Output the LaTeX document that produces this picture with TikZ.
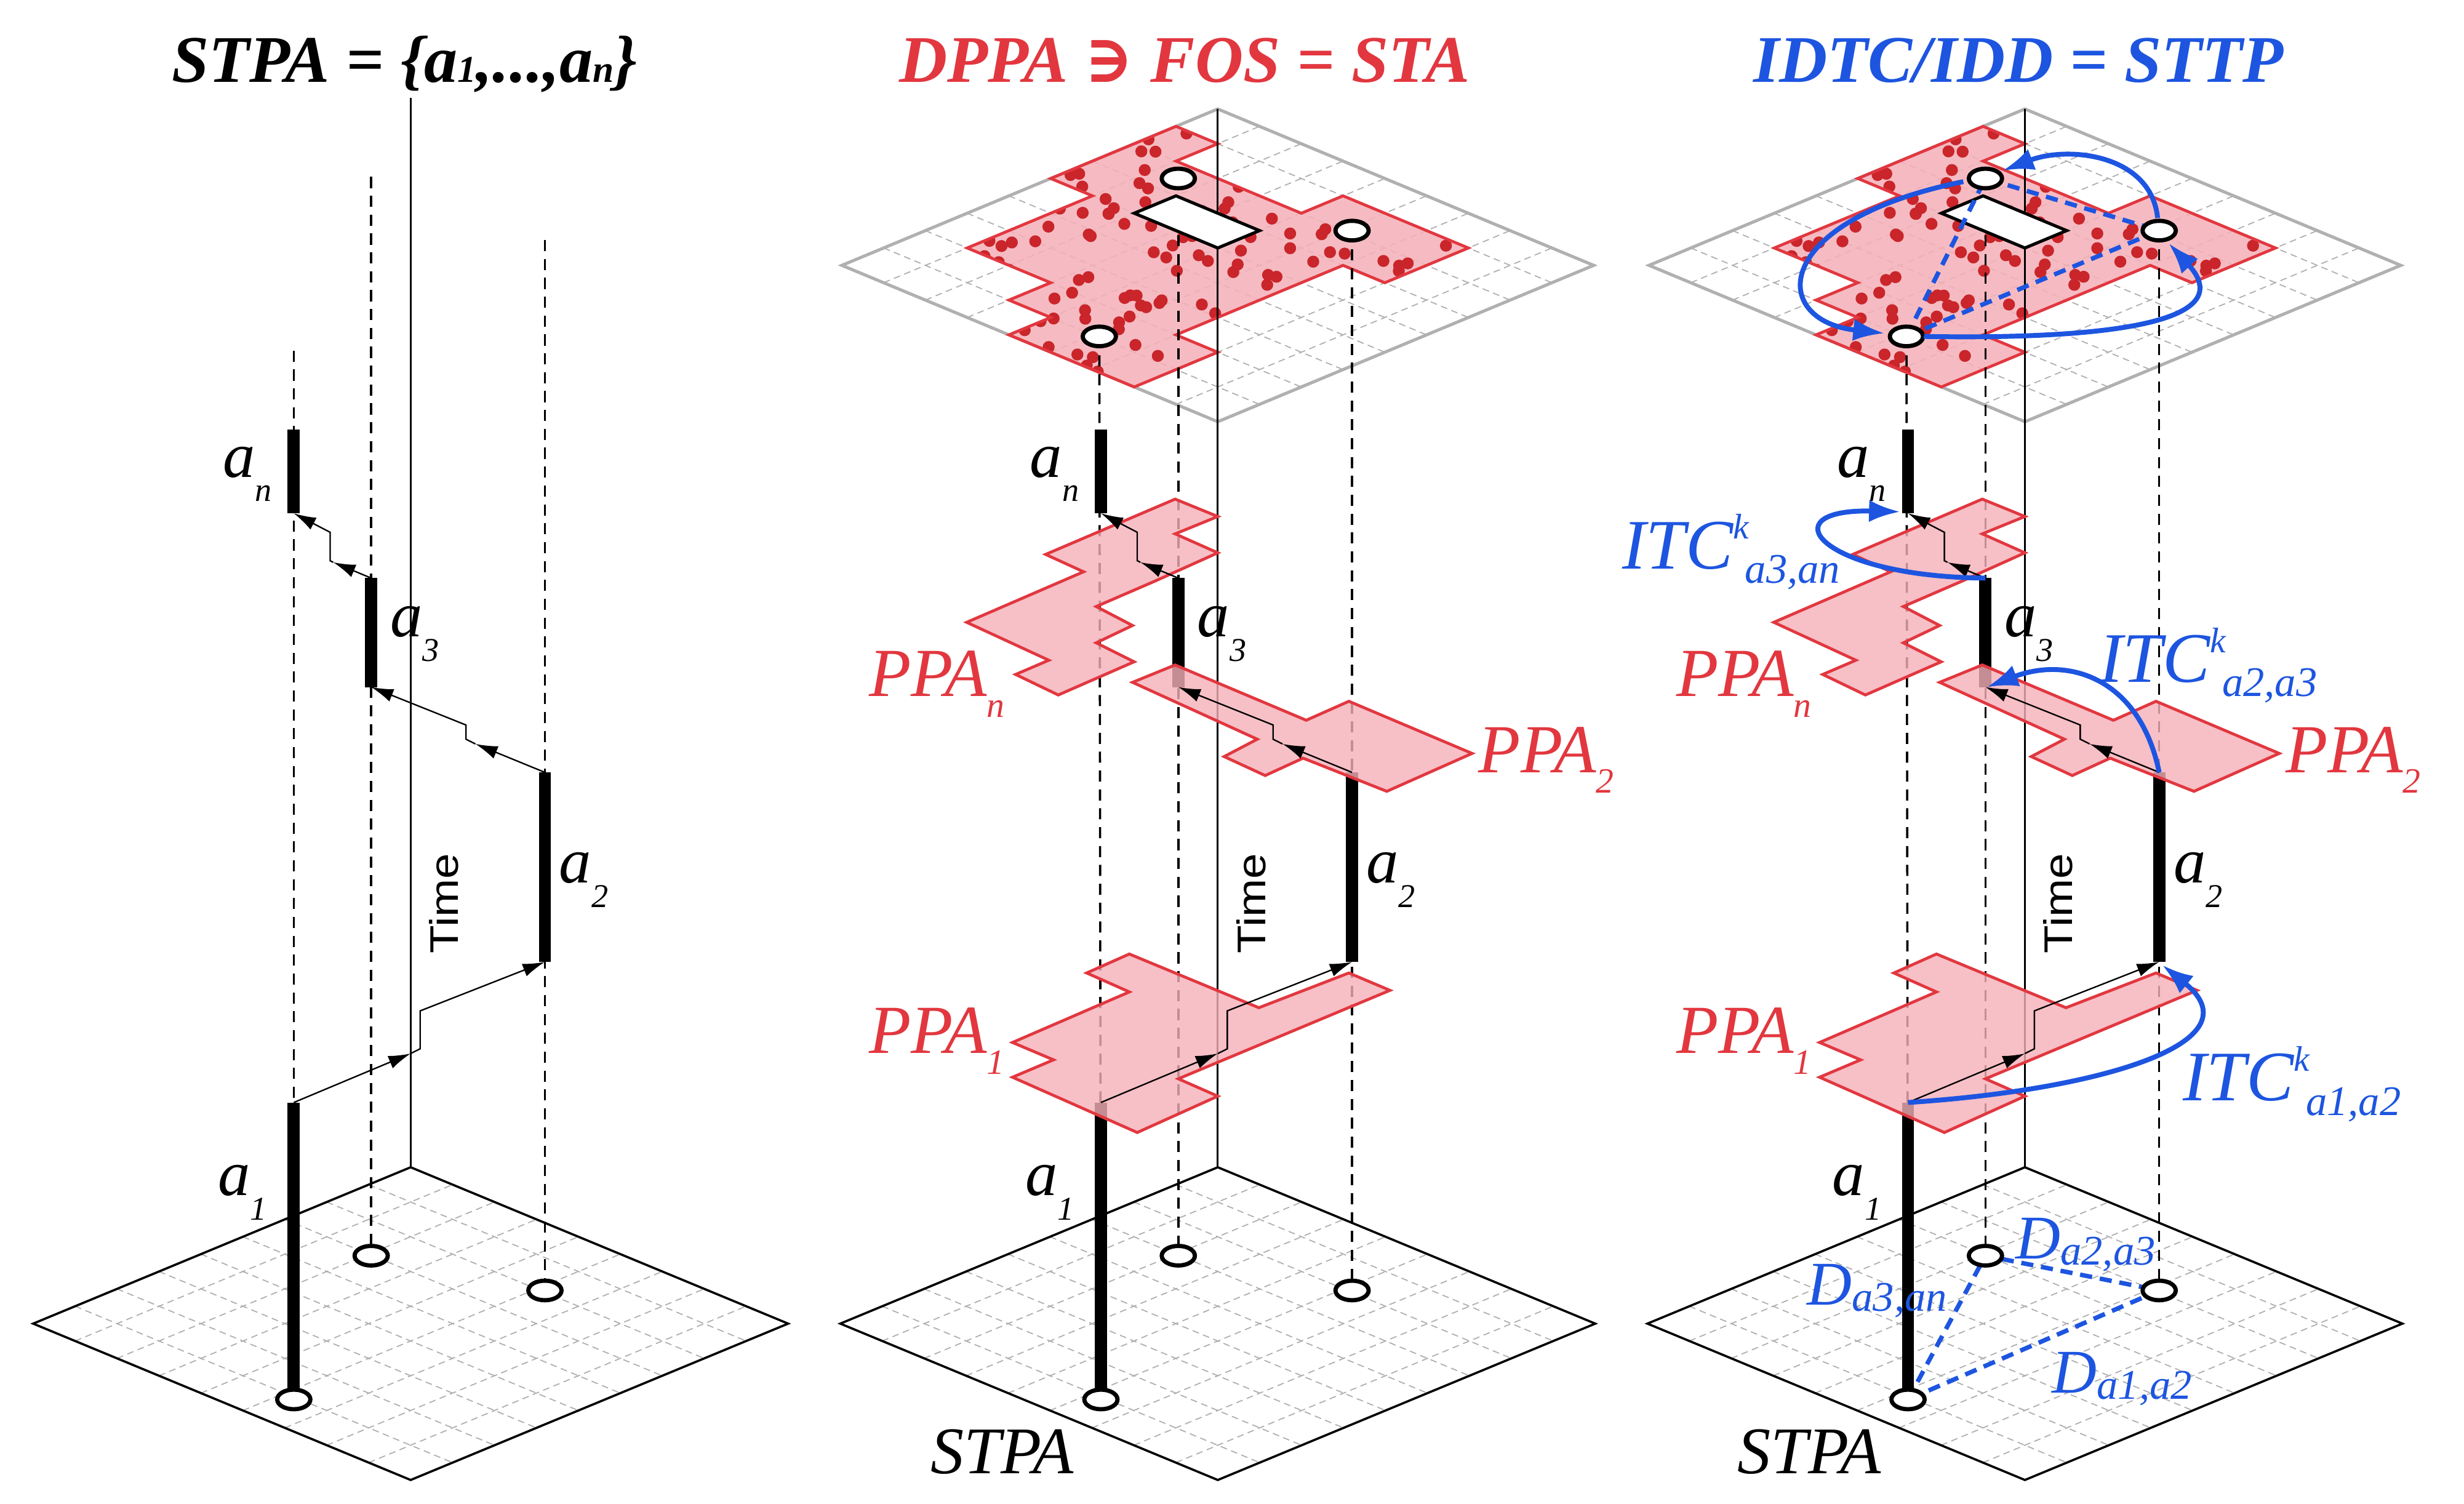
\documentclass[tikz,border=0pt]{standalone}
\usepackage{fontspec}
\setmainfont{Liberation Serif}
\newfontfamily\serf{Liberation Serif}
\newfontfamily\sansf{Liberation Sans}
\newfontfamily\dejav{DejaVu Serif}
\usetikzlibrary{arrows.meta,shapes.geometric}
\definecolor{pred}{HTML}{E2373F}
\definecolor{pfill}{HTML}{F5B0B8}
\definecolor{pdot}{HTML}{C9252A}
\definecolor{pblue}{HTML}{1D55E0}
\definecolor{gridc}{HTML}{B0B0B0}
\newcommand\lsub[3]{\raisebox{#1}{\fontsize{#2}{#2}\selectfont #3}}
\newcommand\redpoly{(8,0)--(8,1)--(7,1)--(7,4)--(8,4)--(8,7)--(6,7)--(6,6)--(2,6)--(2,7)--(0,7)--(0,4)--(1,4)--(1,3)--(2,3)--(2,1)--(5,1)--(5,0)--cycle}
\tikzset{
 grid/.style={gridc, line width=1pt, dash pattern=on 6pt off 4pt},
 floor/.style={black, line width=2pt},
 topplane/.style={gridc, line width=2.8pt},
 axis/.style={black, line width=1.6pt},
 drop/.style={black, line width=2pt, dash pattern=on 10pt off 7pt},
 bar/.style={black, line width=11pt},
 site/.style={ellipse, draw, line width=3.8pt, fill=white, minimum width=1.05cm, minimum height=0.62cm, inner sep=0pt},
 flow/.style={black, line width=1.3pt},
 flowa/.style={flow, -{Latex[length=20pt,width=12pt]}},
 ppa/.style={fill=pfill, fill opacity=0.8, draw=pred, draw opacity=1, line width=2.6pt},
 lab/.style={font=\serf\fontsize{58}{58}\selectfont\itshape, inner sep=0pt, anchor=base west},
 plab/.style={font=\serf\fontsize{62}{62}\selectfont\itshape, text=pred, inner sep=0pt},
 blab/.style={font=\serf\fontsize{64}{64}\selectfont\itshape, text=pblue, inner sep=0pt, anchor=base west},
 dlab/.style={font=\serf\fontsize{56}{56}\selectfont\itshape, text=pblue, inner sep=0pt, anchor=base west},
 title/.style={font=\serf\fontsize{60}{64}\selectfont\bfseries\itshape, inner sep=0pt, anchor=base},
 barrow/.style={pblue, line width=4.4pt, -{Latex[length=28pt,width=20pt]}},
 bdash/.style={pblue, line width=4pt, dash pattern=on 11pt off 7pt},
 stpa/.style={font=\serf\fontsize{60}{60}\selectfont\itshape, inner sep=0pt, anchor=base west},
}
\newcommand\sitecoords[1]{%
 \coordinate (#1c1) at (697,886); \coordinate (#1c3) at (746,795); \coordinate (#1c2) at (856,817);}
\newcommand\floorgrid{%
 \begin{scope}[shift={(532,838)},x={(1.3278cm,0.55cm)},y={(1.3278cm,-0.55cm)}]
  \foreach \i in {1,...,8}{\draw[grid] (\i,0)--(\i,9); \draw[grid] (0,\i)--(9,\i);}
  \draw[floor] (0,0)--(9,0)--(9,9)--(0,9)--cycle;
 \end{scope}}
\newcommand\topplane[2]{%
 \begin{scope}[shift={(533,168)},x={(1.3222cm,0.55cm)},y={(1.3222cm,-0.55cm)}]
  \foreach \i in {1,...,8}{\draw[grid] (\i,0)--(\i,9); \draw[grid] (0,\i)--(9,\i);}
  \draw[topplane] (0,0)--(9,0)--(9,9)--(0,9)--cycle;
  \path[fill=pfill, fill opacity=0.85] \redpoly;
  \begin{scope}
   \clip \redpoly;
   \pgfmathsetseed{11}
   \foreach \k in {1,...,120}{\pgfmathsetmacro\ra{rnd*8}\pgfmathsetmacro\rb{rnd*7}\fill[pdot] (\ra,\rb) circle[radius=0.19cm];}
  \end{scope}
  \draw[pred, line width=2.6pt] \redpoly;
 \end{scope}
 \coordinate (#1T1) at (696,213); \coordinate (#1T3) at (746,113); \coordinate (#1T2) at (856,146);
 \draw[axis] (771,69) -- (771,739);
 \draw[drop] (#1T1) -- (#1c1); \draw[drop] (#1T3) -- (#1c3); \draw[drop] (#1T2) -- (#1c2);
 \begin{scope}[shift={(533,168)},x={(1.3222cm,0.55cm)},y={(1.3222cm,-0.55cm)}]
  \draw[black, line width=2.8pt, fill=white] (5,2)--(6,2)--(6,4)--(5,4)--cycle;
 \end{scope}
 #2
 \node[site] (#1t1) at (#1T1) {}; \node[site] (#1t3) at (#1T3) {}; \node[site] (#1t2) at (#1T2) {};}
\newcommand\ppas[1]{%
 \draw[ppa] (744,316)--(771,327)--(744,338)--(771,350)--(731,368)--(694,384)--(717,396)--(694,407)--(718,419)--(670,440)--(643,427)--(664,418)--(612,394)--(686,362)--(662,351)--cycle;
 \draw[ppa] (744,421)--(827,456)--(854,444)--(932,477)--(878,501)--(825,480)--(801,491)--(775,479)--(796,468)--(717,432)--cycle;
 \draw[ppa] (715,604)--(797,638)--(854,616)--(880,627)--(746,683)--(771,694)--(720,717)--(641,682)--(667,671)--(641,660)--(715,628)--(688,616)--cycle;
 \node[plab, anchor=base east] (#1pn) at (636,441) {PPA\lsub{-0.3em}{32}{n}};
 \node[plab, anchor=base west] (#1p2) at (936,489) {PPA\lsub{-0.3em}{32}{2}};
 \node[plab, anchor=base east] (#1p1) at (636,667) {PPA\lsub{-0.3em}{32}{1}};}
\newcommand\bars[1]{%
 \coordinate (#1b1) at (697,698); \coordinate (#1b2t) at (856,489); \coordinate (#1b2b) at (856,609);
 \coordinate (#1b3t) at (746,366); \coordinate (#1b3b) at (746,435); \coordinate (#1bnt) at (697,272); \coordinate (#1bnb) at (697,325);
 \draw[bar] (#1b1) -- (#1c1); \draw[bar] (#1b2t) -- (#1b2b); \draw[bar] (#1b3t) -- (#1b3b); \draw[bar] (#1bnt) -- (#1bnb);}
\newcommand\actors[1]{%
 \coordinate (#1m1) at (771,667); \coordinate (#1m2) at (812,471); \coordinate (#1m3) at (722,356);
 \draw[flowa] (#1b1) -- (#1m1);
 \draw[flowa] (#1m1) -- (777,664) -- (777,640) -- (#1b2b);
 \draw[flowa] (#1b2t) -- (#1m2);
 \draw[flowa] (#1m2) -- (806,468) -- (806,459) -- (#1b3b);
 \draw[flowa] (#1b3t) -- (#1m3);
 \draw[flowa] (#1m3) -- (720,355) -- (720,337) -- (#1bnb);
 \node[site] (#1s1) at (#1c1) {}; \node[site] (#1s3) at (#1c3) {}; \node[site] (#1s2) at (#1c2) {};
 \node[lab] (#1l1) at (649,757) {a\lsub{-0.38em}{30}{1}};
 \node[lab] (#1l2) at (865,559) {a\lsub{-0.38em}{30}{2}};
 \node[lab] (#1l3) at (758,403) {a\lsub{-0.38em}{30}{3}};
 \node[lab] (#1ln) at (652,302) {a\lsub{-0.38em}{30}{n}};
 \node[rotate=90, font=\sansf\fontsize{36}{36}\selectfont, inner sep=0pt] (#1time) at (792,572) {\scalebox{1.15}[1]{Time}};}
\begin{document}
\begin{tikzpicture}[x=0.05cm,y=-0.05cm]
\useasboundingbox[fill=white] (0,0) rectangle (1560,952);
% ---------- panel 1
\begin{scope}[shift={(-511,0)}]
 \sitecoords{a}
 \floorgrid
 \coordinate (aT1) at (697,222); \coordinate (aT3) at (746,112); \coordinate (aT2) at (856,152);
 \coordinate (aax) at (771,62); \coordinate (aax0) at (771,739);
 \draw[axis] (aax) -- (aax0);
 \draw[drop] (aT1) -- (ac1); \draw[drop] (aT3) -- (ac3); \draw[drop] (aT2) -- (ac2);
 \bars{a}
 \actors{a}
 \node[title] (atitle) at (767,52) {STPA = \{a\lsub{0pt}{34}{1},...,a\lsub{0pt}{34}{n}\}};
\end{scope}
% ---------- panel 2
\sitecoords{b}
\floorgrid
\topplane{b}{}
\bars{b}
\ppas{b}
\actors{b}
\node[title, text=pred] (btitle) at (750,52) {DPPA {\dejav\bfseries ∋} FOS = STA};
\node[stpa] (bstpa) at (589,933) {STPA};
% ---------- panel 3
\begin{scope}[shift={(511,0)}]
 \sitecoords{c}
 \floorgrid
 \topplane{c}{\draw[bdash] (cT1) -- (cT3) -- (cT2) -- cycle;}
 \draw[barrow] (855,138) .. controls (851,98) and (799,92) .. (757,108);
 \draw[barrow] (707,213) .. controls (819,215) and (909,205) .. (862,154);
 \draw[barrow] (732,115) .. controls (609,140) and (609,203) .. (682,211);
 \draw[bdash] (cc1) -- (cc3) -- (cc2) -- cycle;
 \bars{c}
 \ppas{c}
 \actors{c}
 \draw[barrow] (cb3t) .. controls (639,365) and (609,322) .. (692,324);
 \draw[barrow] (cb2t) .. controls (844,430) and (799,415) .. (747,435);
 \draw[barrow] (cb1) .. controls (819,690) and (919,660) .. (858,611);
 \node[blab] (citc1) at (516,360) {ITC\lsub{0.42em}{32}{k}\hspace{-0.05em}\lsub{-0.2em}{38}{a3,an}};
 \node[blab] (citc2) at (818,432) {ITC\lsub{0.42em}{32}{k}\hspace{-0.05em}\lsub{-0.2em}{38}{a2,a3}};
 \node[blab] (citc3) at (871,697) {ITC\lsub{0.42em}{32}{k}\hspace{-0.05em}\lsub{-0.2em}{38}{a1,a2}};
 \node[dlab] (cd1) at (633,826) {D\lsub{-0.1em}{38}{a3,an}};
 \node[dlab] (cd2) at (765,797) {D\lsub{-0.1em}{38}{a2,a3}};
 \node[dlab] (cd3) at (788,882) {D\lsub{-0.1em}{38}{a1,a2}};
 \node[stpa] (cstpa) at (589,933) {STPA};
 \node[title, text=pblue] (ctitle) at (767,52) {IDTC/IDD = STTP};
\end{scope}
\end{tikzpicture}
\end{document}
